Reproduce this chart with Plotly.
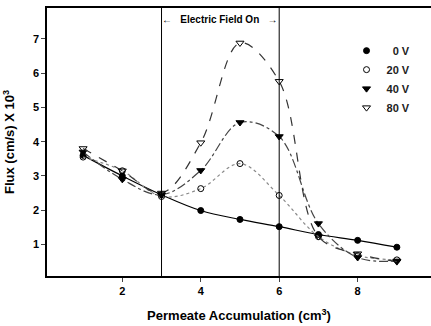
import plotly.graph_objects as go

volume = [1, 2, 3, 4, 5, 6, 7, 8, 9]
flux_0v = [3.60, 3.00, 2.45, 1.99, 1.73, 1.52, 1.29, 1.12, 0.92]
flux_20v = [3.55, 3.15, 2.40, 2.63, 3.36, 2.43, 1.23, 0.68, 0.55]
flux_40v = [3.70, 2.90, 2.45, 3.16, 4.56, 4.15, 1.61, 0.62, 0.52]
flux_80v = [3.80, 3.15, 2.50, 3.97, 6.88, 5.76, 1.23, 0.73, 0.50]
series_names = ["\u20070 V", "20 V", "40 V", "80 V"]
field_on = [3, 6]
x_ticks = [2, 4, 6, 8]
y_ticks = [1, 2, 3, 4, 5, 6, 7]

font = "Liberation Sans, Arial, sans-serif"
styles = [
    dict(symbol="circle", size=6, dash="solid", lc="black"),
    dict(symbol="circle-open", size=6, dash="dot", lc="#888"),
    dict(symbol="triangle-down", size=7, dash="dashdot", lc="#444"),
    dict(symbol="triangle-down-open", size=7, dash="dash", lc="#333"),
]

fig = go.Figure()
for ys, st in zip([flux_0v, flux_20v, flux_40v, flux_80v], styles):
    fig.add_trace(go.Scatter(
        x=volume, y=ys, mode="lines+markers", showlegend=False,
        line=dict(shape="spline", smoothing=1.0, color=st["lc"], width=1.2, dash=st["dash"]),
        marker=dict(symbol=st["symbol"], size=st["size"], color="black",
                    line=dict(color="black", width=1)),
    ))
for name, st in zip(series_names, styles):
    fig.add_trace(go.Scatter(
        x=[None], y=[None], mode="markers", name=name,
        marker=dict(symbol=st["symbol"], size=st["size"], color="black",
                    line=dict(color="black", width=1)),
    ))

for xv in field_on:
    fig.add_shape(type="line", xref="x", yref="paper", x0=xv, x1=xv, y0=0, y1=1,
                  line=dict(color="black", width=1))

fig.add_annotation(x=(field_on[0] + field_on[1]) / 2, y=7.55, xref="x", yref="y",
                   text="\u2190   Electric Field On   \u2192", showarrow=False,
                   font=dict(family=font, size=10, color="black", weight="bold"))

fig.update_layout(
    width=431, height=326,
    margin=dict(l=47, r=0, t=8, b=50),
    paper_bgcolor="white", plot_bgcolor="white",
    font=dict(family=font, size=11, color="black"),
    legend=dict(x=0.78, y=0.895, xanchor="left", yanchor="top",
                font=dict(family=font, size=11, color="#222", weight="bold"),
                bgcolor="rgba(0,0,0,0)", tracegroupgap=0, itemwidth=30),
    xaxis=dict(range=[0.08, 9.87], tickvals=x_ticks, ticks="outside", ticklen=4,
               showline=True, linecolor="black", linewidth=1.5, mirror=True,
               showgrid=False, zeroline=False, automargin=False,
               tickfont=dict(family=font, size=11, weight="bold"),
               title=dict(text="Permeate Accumulation (cm<sup>3</sup>)",
                          font=dict(family=font, size=13, weight="bold"))),
    yaxis=dict(range=[0.08, 7.9], tickvals=y_ticks, ticks="outside", ticklen=4,
               showline=True, linecolor="black", linewidth=1.5,
               showgrid=False, zeroline=False, automargin=False,
               tickfont=dict(family=font, size=11, weight="bold"),
               title=dict(text="Flux (cm/s) X 10<sup>3</sup>",
                          font=dict(family=font, size=13, weight="bold"))),
)

fig.write_html("out.html", config={"displayModeBar": False},
               post_script="document.body.style.margin='0';")
